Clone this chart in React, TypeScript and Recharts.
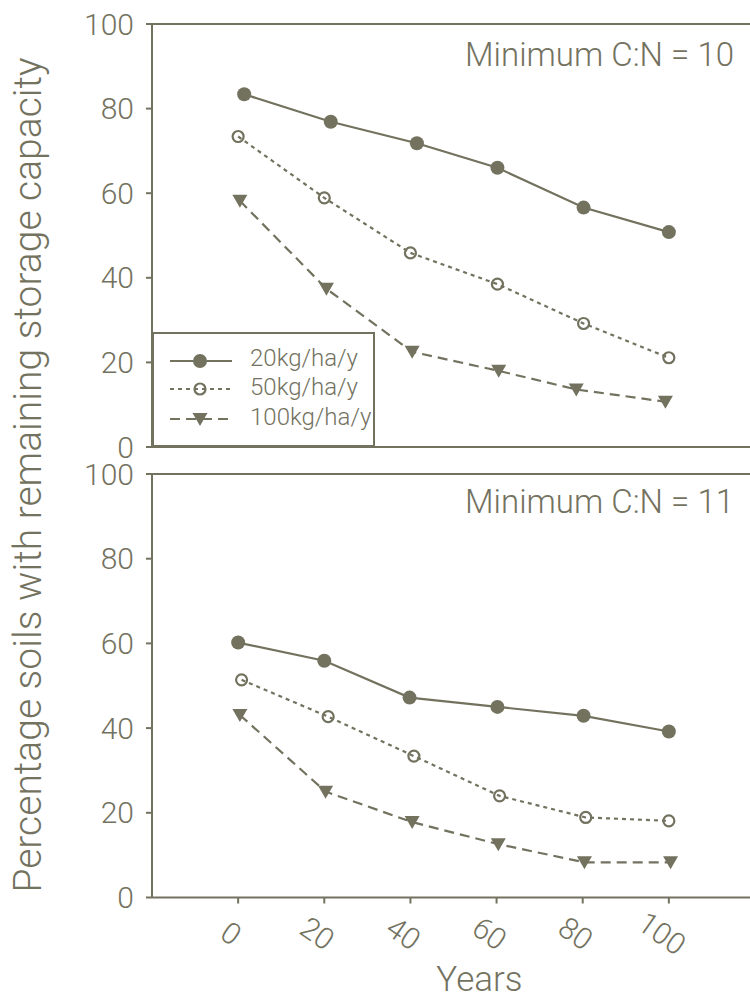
import { LineChart, Line, XAxis, YAxis, ReferenceLine, Legend, Customized, Label } from 'recharts'

const INK = '#73725f'
const FONT = 'Roboto, "Liberation Sans", sans-serif'

const xTicks = [0, 20, 40, 60, 80, 100]
const yTicks = [0, 20, 40, 60, 80, 100]
const seriesNames = ['20kg/ha/y', '50kg/ha/y', '100kg/ha/y']

// Minimum C:N = 10
const top20X = [1.4, 21.5, 41.5, 60.2, 80.2, 100]
const top20Y = [83.4, 76.9, 71.8, 66.0, 56.6, 50.8]
const top50X = [0, 20, 40, 60.2, 80.2, 100]
const top50Y = [73.4, 58.9, 45.9, 38.5, 29.2, 21.1]
const top100X = [0.4, 20.5, 40.4, 60.5, 78.5, 99.2]
const top100Y = [58.2, 37.4, 22.5, 18.0, 13.6, 10.7]

// Minimum C:N = 11
const bot20X = [0, 20, 39.8, 60.2, 80.2, 100]
const bot20Y = [60.2, 55.9, 47.2, 45.0, 42.9, 39.2]
const bot50X = [0.8, 20.9, 40.8, 60.7, 80.7, 100]
const bot50Y = [51.4, 42.7, 33.4, 24.0, 18.9, 18.1]
const bot100X = [0.4, 20.3, 40.4, 60.4, 80.4, 100.4]
const bot100Y = [43.1, 25.0, 17.8, 12.6, 8.3, 8.3]

const pts = (xs: number[], ys: number[]) => xs.map((x, i) => ({ x, y: ys[i] }))

const DOTTED = '4 4'
const DASHED = '10 6'

// eslint-disable-next-line @typescript-eslint/no-explicit-any
const FilledDot = ({ cx, cy }: any) => <circle cx={cx} cy={cy} r={7} fill={INK} />
// eslint-disable-next-line @typescript-eslint/no-explicit-any
const OpenDot = ({ cx, cy }: any) => (
  <circle cx={cx} cy={cy} r={5.5} fill="none" stroke={INK} strokeWidth={2.2} />
)
// eslint-disable-next-line @typescript-eslint/no-explicit-any
const TriDot = ({ cx, cy }: any) => (
  <path d={`M${cx - 7.5},${cy - 6}L${cx + 7.5},${cy - 6}L${cx},${cy + 7}Z`} fill={INK} />
)

// eslint-disable-next-line @typescript-eslint/no-explicit-any
function XTick({ x, y, payload }: any) {
  return (
    <g transform={`translate(${x - 7},${y + 28}) rotate(35)`}>
      <text textAnchor="middle" dominantBaseline="central" fontSize={30} fill={INK}
        fontFamily={FONT} fontWeight={300}>
        {payload.value}
      </text>
    </g>
  )
}

function LegendBox() {
  const rows = [
    { y: 29, base: 34, dash: undefined, dot: FilledDot },
    { y: 57, base: 63, dash: DOTTED, dot: OpenDot },
    { y: 87, base: 93, dash: DASHED, dot: TriDot },
  ]
  return (
    <svg width={223} height={115} style={{ display: 'block' }}>
      <rect x={1} y={1} width={221} height={113} fill="#fff" stroke={INK} strokeWidth={2} />
      {rows.map((r, i) => (
        <g key={seriesNames[i]}>
          <line x1={18} x2={80} y1={r.y} y2={r.y} stroke={INK} strokeWidth={2} strokeDasharray={r.dash} />
          {r.dot({ cx: 48, cy: r.y })}
          <text x={98} y={r.base} fontSize={24} fill={INK} fontFamily={FONT} fontWeight={300}>
            {seriesNames[i]}
          </text>
        </g>
      ))}
    </svg>
  )
}

interface PanelProps {
  top: number
  height: number
  axisHeight: number
  s20: { x: number; y: number }[]
  s50: { x: number; y: number }[]
  s100: { x: number; y: number }[]
  note: string
  noteY: number
  bottom?: boolean
}

function Panel({ top, height, axisHeight, s20, s50, s100, note, noteY, bottom }: PanelProps) {
  const tickStyle = { fontSize: 30, fill: INK, fontFamily: FONT, fontWeight: 300 }
  return (
    <div style={{ position: 'absolute', left: 0, top }}>
      <LineChart width={760} height={height} margin={{ top: 24, right: 5, bottom: 0, left: 0 }}>
        <XAxis type="number" dataKey="x" domain={[-20, 120]} ticks={xTicks} allowDataOverflow
          height={axisHeight} stroke={INK} strokeWidth={2} tickSize={6} interval={0}
          tick={bottom ? <XTick /> : false}>
          {bottom && (
            <Label value="Years" position="insideBottom" offset={8} dx={26}
              style={{ fontSize: 35, fill: INK, fontFamily: FONT, fontWeight: 300 }} />
          )}
        </XAxis>
        <YAxis type="number" domain={[0, 100]} ticks={yTicks} width={152} interval={0}
          stroke={INK} strokeWidth={2} tickSize={6} tickMargin={12} tick={tickStyle} />
        <ReferenceLine y={100} stroke={INK} strokeWidth={2} />
        <Line data={s20} dataKey="y" type="linear" stroke={INK} strokeWidth={2.2}
          dot={FilledDot} isAnimationActive={false} />
        <Line data={s50} dataKey="y" type="linear" stroke={INK} strokeWidth={2.2}
          strokeDasharray={DOTTED} dot={OpenDot} isAnimationActive={false} />
        <Line data={s100} dataKey="y" type="linear" stroke={INK} strokeWidth={2.2}
          strokeDasharray={DASHED} dot={TriDot} isAnimationActive={false} />
        <Customized component={() => (
          <text x={734} y={noteY} textAnchor="end" fontSize={33} fill={INK}
            fontFamily={FONT} fontWeight={300}>
            {note}
          </text>
        )} />
        {!bottom && (
          <Legend layout="vertical" align="center" verticalAlign="middle"
            wrapperStyle={{ left: 152, top: 332, width: 223, height: 115 }}
            content={<LegendBox />} />
        )}
      </LineChart>
    </div>
  )
}

export default function App() {
  return (
    <div style={{ position: 'absolute', left: 0, top: 0, width: 750, height: 999, overflow: 'hidden', background: '#fff' }}>
      <Panel top={0} height={472} axisHeight={25}
        s20={pts(top20X, top20Y)} s50={pts(top50X, top50Y)} s100={pts(top100X, top100Y)}
        note="Minimum C:N = 10" noteY={66} />
      <Panel top={450} height={549} axisHeight={101.5} bottom
        s20={pts(bot20X, bot20Y)} s50={pts(bot50X, bot50Y)} s100={pts(bot100X, bot100Y)}
        note="Minimum C:N = 11" noteY={63} />
      <svg width={80} height={999} style={{ position: 'absolute', left: 0, top: 0, pointerEvents: 'none' }}>
        <text transform="translate(41,475) rotate(-90)" textAnchor="middle" fontSize={39}
          fill={INK} fontFamily={FONT} fontWeight={300}>
          Percentage soils with remaining storage capacity
        </text>
      </svg>
    </div>
  )
}
